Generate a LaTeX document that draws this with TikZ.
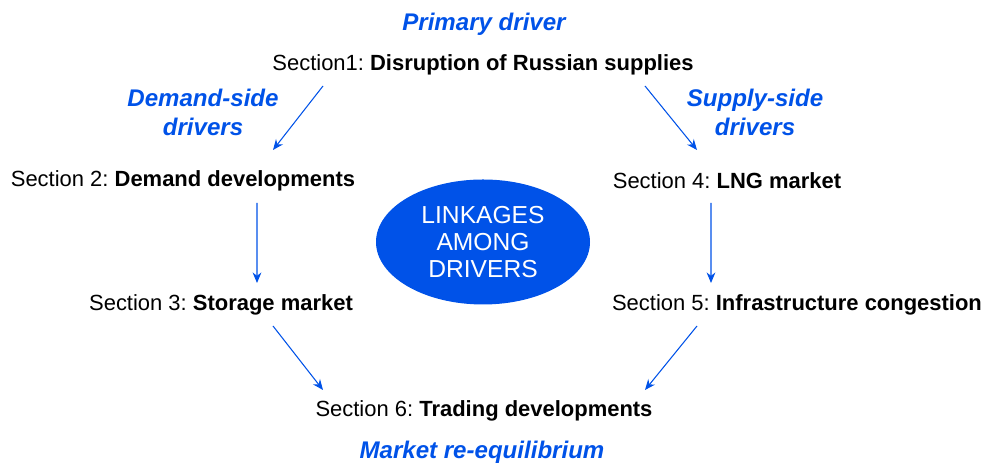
\documentclass[tikz,border=0pt]{standalone}
\usepackage{fontspec}
\setmainfont{Liberation Sans}
\usetikzlibrary{calc,arrows.meta,shapes.geometric}
\definecolor{drvblue}{HTML}{0052E8}
\frenchspacing
\begin{document}
\begin{tikzpicture}
	\tikzset{section/.style = {font=\fontsize{12.5}{15}\selectfont, inner sep=0pt},
		driver/.style = {font=\fontsize{13.7}{16.5}\selectfont\bfseries\itshape, text=drvblue, align=center, inner sep=0pt},
		link/.style = {draw=drvblue, line width=.6pt, -{Stealth[length=6pt,width=5pt]}}}
	\useasboundingbox (0,0) rectangle (19.74,9.28);
	% Sections
	\node[section] (s1) at (9.66,7.99) {Section1: \textbf{Disruption of Russian supplies}};
	\node[section] (s2) at (3.66,5.67) {Section 2: \textbf{Demand developments}};
	\node[section] (s3) at (4.42,3.19) {Section 3: \textbf{Storage market}};
	\node[section] (s4) at (14.54,5.67) {Section 4: \textbf{LNG market}};
	\node[section] (s5) at (15.94,3.19) {Section 5: \textbf{Infrastructure congestion}};
	\node[section] (s6) at (9.68,1.07) {Section 6: \textbf{Trading developments}};
	% Drivers
	\node[driver] (primary) at (9.68,8.80) {Primary driver};
	\node[driver] (demand) at (4.06,7.04) {Demand-side\\drivers};
	\node[driver] (supply) at (15.1,7.04) {Supply-side\\drivers};
	\node[driver] (market) at (9.64,0.23) {Market re-equilibrium};
	% Centre
	\node[ellipse, fill=drvblue, minimum width=4.28cm, minimum height=2.5cm, inner sep=0pt,
		text=white, align=center, font=\fontsize{14}{15.5}\selectfont] (hub) at (9.66,4.44) {LINKAGES\\AMONG\\DRIVERS};
	% Links
	\draw[link] ($(s1)+(-3.2,-0.43)$) -- ($(s2)+(1.8,0.61)$);
	\draw[link] ($(s1)+(3.24,-0.43)$) -- ($(s4)+(-0.6,0.61)$);
	\draw[link] ($(s2)+(1.48,-0.45)$) -- ($(s3)+(0.72,0.43)$);
	\draw[link] ($(s4)+(-0.32,-0.45)$) -- ($(s5)+(-1.72,0.43)$);
	\draw[link] ($(s3)+(1.04,-0.43)$) -- ($(s6)+(-3.22,0.41)$);
	\draw[link] ($(s5)+(-2.0,-0.43)$) -- ($(s6)+(3.22,0.41)$);
\end{tikzpicture}
\end{document}
